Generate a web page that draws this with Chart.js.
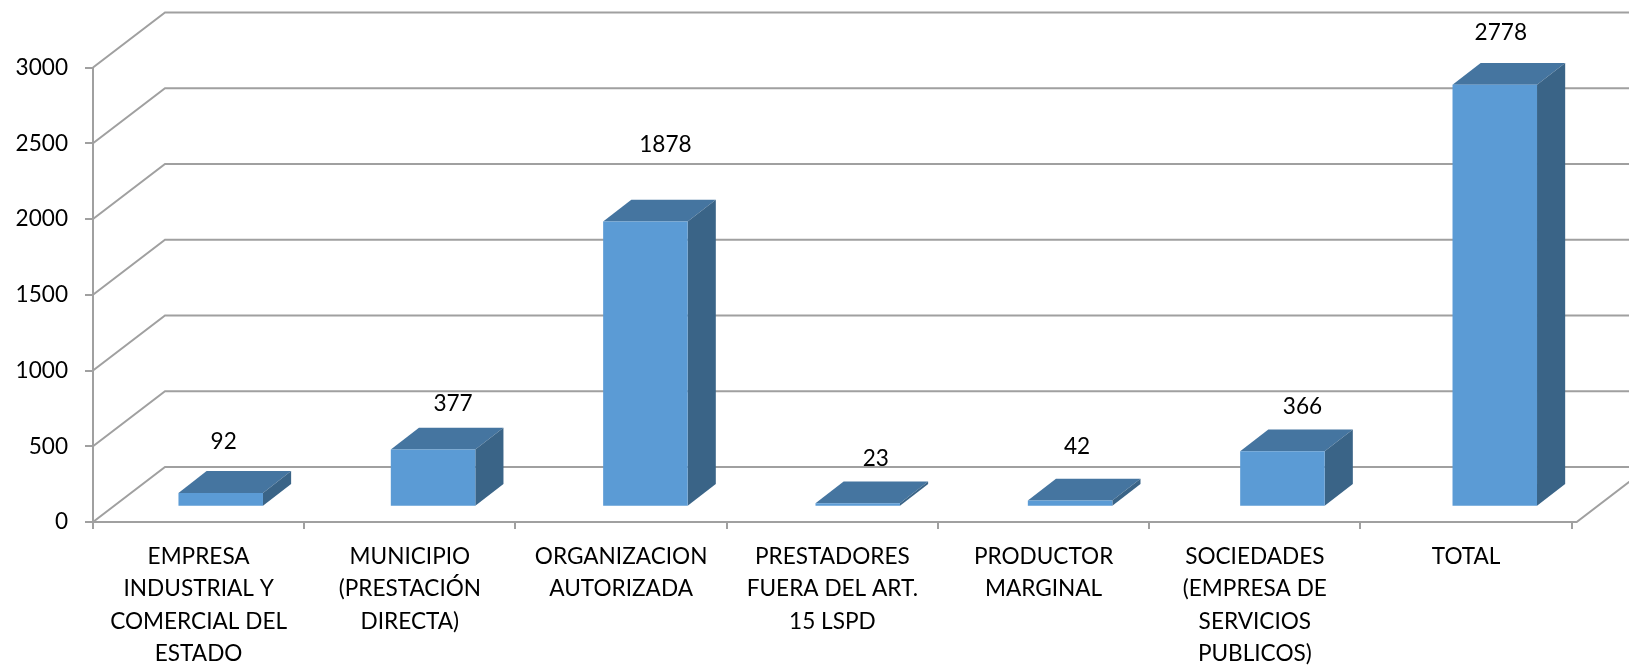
<!DOCTYPE html>
<html>
<head>
<meta charset="utf-8">
<style>html,body{margin:0;padding:0;background:#fff}canvas{display:block}</style>
<script src="https://cdn.jsdelivr.net/npm/chart.js@4"></script>
</head>
<body>
<canvas id="c" width="1629" height="666"></canvas>
<script>
const categories = [
  ["EMPRESA","INDUSTRIAL Y","COMERCIAL DEL","ESTADO"],
  ["MUNICIPIO","(PRESTACIÓN","DIRECTA)"],
  ["ORGANIZACION","AUTORIZADA"],
  ["PRESTADORES","FUERA DEL ART.","15 LSPD"],
  ["PRODUCTOR","MARGINAL"],
  ["SOCIEDADES","(EMPRESA DE","SERVICIOS","PUBLICOS)"],
  ["TOTAL"]
];
const values = [92, 377, 1878, 23, 42, 366, 2778];
const axisMax = 3000;
const axisStep = 500;

const FONT = "Lato, 'Open Sans', sans-serif";
const FONT_SIZE = 22.6;
const GRID = "#a0a0a0";
const FACE = "#5b9bd5", TOP = "#4575a0", SIDE = "#3a6487";
const WALL = {dx: 72, dy: 55};          // depth of the chart floor
const PLANE = {sx: 1.0052, sy: 1.0032, tx: 21.07, ty: -16.8}; // plane holding the bars' front faces
const DEPTH = {dx: 28, dy: 21.7};       // depth of a bar
const labelOffset = [[3,-51],[20,-46],[20,-76.5],[18,-45],[7,-54],[20,-45],[6,-51.5]]; // hand-placed value labels

const cube = {
  id: "cube",
  beforeDatasetsDraw(chart) {
    const {ctx, chartArea: a, scales: {x, y}} = chart;
    ctx.save();
    ctx.strokeStyle = GRID;
    ctx.lineWidth = 2;
    y.ticks.forEach(t => {
      const py = y.getPixelForValue(t.value);
      ctx.beginPath();
      ctx.moveTo(a.left, py);
      ctx.lineTo(a.left + WALL.dx, py - WALL.dy);
      ctx.lineTo(a.right + 5 + WALL.dx, py - WALL.dy);
      ctx.stroke();
    });
    ctx.beginPath();
    ctx.moveTo(a.left, a.bottom);
    ctx.lineTo(a.right + 5, a.bottom);
    ctx.lineTo(a.right + 5 + WALL.dx, a.bottom - WALL.dy);
    ctx.stroke();
    ctx.restore();

    ctx.save();
    ctx.transform(PLANE.sx, 0, 0, PLANE.sy, PLANE.tx, PLANE.ty);
    chart.getDatasetMeta(0).data.forEach(b => {
      const l = b.x - b.width / 2, r = b.x + b.width / 2;
      ctx.fillStyle = TOP;
      ctx.beginPath();
      ctx.moveTo(l, b.y);
      ctx.lineTo(l + DEPTH.dx, b.y - DEPTH.dy);
      ctx.lineTo(r + DEPTH.dx, b.y - DEPTH.dy);
      ctx.lineTo(r, b.y);
      ctx.closePath();
      ctx.fill();
      ctx.fillStyle = SIDE;
      ctx.beginPath();
      ctx.moveTo(r, b.y);
      ctx.lineTo(r + DEPTH.dx, b.y - DEPTH.dy);
      ctx.lineTo(r + DEPTH.dx, b.base - DEPTH.dy);
      ctx.lineTo(r, b.base);
      ctx.closePath();
      ctx.fill();
    });
  },
  afterDatasetsDraw(chart) {
    const {ctx} = chart;
    ctx.restore();
    ctx.save();
    ctx.font = FONT_SIZE + "px " + FONT;
    ctx.fillStyle = "#000";
    ctx.textAlign = "center";
    ctx.textBaseline = "middle";
    chart.getDatasetMeta(0).data.forEach((b, i) => {
      const px = b.x * PLANE.sx + PLANE.tx, py = b.y * PLANE.sy + PLANE.ty;
      ctx.fillText(String(values[i]), px + labelOffset[i][0], py + labelOffset[i][1]);
    });
    ctx.restore();
  }
};

new Chart(document.getElementById("c"), {
  type: "bar",
  data: {
    labels: categories,
    datasets: [{
      data: values,
      backgroundColor: FACE,
      borderWidth: 0,
      barPercentage: 0.398,
      categoryPercentage: 1,
      clip: false
    }]
  },
  options: {
    responsive: false,
    animation: false,
    devicePixelRatio: 1,
    layout: {padding: {top: 67.5, right: 57.3, left: 0, bottom: 0}},
    plugins: {legend: {display: false}, tooltip: {enabled: false}},
    scales: {
      x: {
        afterFit(s) { s.height = 144; },
        grid: {drawOnChartArea: false, color: GRID, lineWidth: 2, tickLength: 7},
        border: {color: GRID, width: 2},
        ticks: {
          font: {family: FONT, size: FONT_SIZE, lineHeight: 32.5 / FONT_SIZE},
          color: "#000",
          padding: 11,
          autoSkip: false,
          maxRotation: 0,
          minRotation: 0
        }
      },
      y: {
        min: 0,
        max: axisMax,
        afterFit(s) { s.width = 93; },
        grid: {drawOnChartArea: false, color: GRID, lineWidth: 2, tickLength: 8},
        border: {color: GRID, width: 2},
        ticks: {
          stepSize: axisStep,
          callback: v => String(v),
          font: {family: FONT, size: FONT_SIZE},
          color: "#000",
          padding: 17
        }
      }
    }
  },
  plugins: [cube]
});
</script>
</body>
</html>
